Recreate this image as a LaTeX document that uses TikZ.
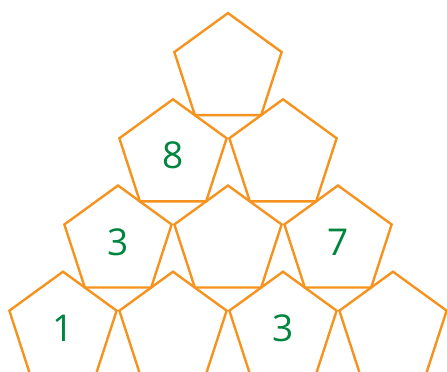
\documentclass[tikz,border=0pt]{standalone}
\usepackage{fontspec}
\setmainfont{Open Sans}
\usepackage{tikz}
\usetikzlibrary{shapes.geometric}
\definecolor{pyrorange}{RGB}{245,147,30}
\definecolor{pyrgreen}{RGB}{0,133,62}

\begin{document}
\begin{tikzpicture}[
      x=1pt, y=-1pt,
      tile/.style={regular polygon, regular polygon sides=5, minimum size=112.8pt, inner sep=0pt, outer sep=0pt, draw=pyrorange, line width=2.4pt, text=pyrgreen, font=\fontsize{37}{37}\selectfont}
    ]
      \useasboundingbox (0,0) rectangle (447,372);

      % row 1
      \node[tile] (t11) at (228, 69.5) {};

      % row 2
      \node[tile] (t21) at (173, 155.7) {8};
      \node[tile] (t22) at (283, 155.7) {};

      % row 3
      \node[tile] (t31) at (118, 241.9) {3};
      \node[tile] (t32) at (228, 241.9) {};
      \node[tile] (t33) at (338, 241.9) {7};

      % row 4
      \node[tile] (t41) at (63, 328.1) {1};
      \node[tile] (t42) at (173, 328.1) {};
      \node[tile] (t43) at (283, 328.1) {3};
      \node[tile] (t44) at (393, 328.1) {};
    \end{tikzpicture}
\end{document}
